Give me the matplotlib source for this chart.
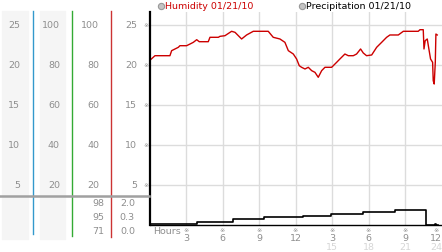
import numpy as np
import matplotlib
matplotlib.use("Agg")
import matplotlib.pyplot as plt
import matplotlib.transforms as mtransforms
from matplotlib.lines import Line2D
from matplotlib.patches import Rectangle

# humidity trace (hours, value)
hum_hours = [0, 0.45, 1.68, 1.82, 2.37, 2.5, 3.05, 3.33, 3.6, 3.88, 4.09, 4.83,
             4.97, 5.66, 5.79, 6.2, 6.75, 7.03, 7.57, 7.98, 8.53, 9.76, 10.17,
             10.72, 11.13, 11.41, 11.82, 12.09, 12.31, 12.5, 12.78, 13.05, 13.33,
             13.6, 13.87, 14.15, 14.42, 14.97, 15.38, 15.65, 16.06, 16.34, 16.75,
             17.02, 17.35, 17.57, 17.84, 18.26, 18.67, 19.08, 19.49, 19.76, 20.45,
             20.86, 22.09, 22.23, 22.5, 22.56, 22.66, 22.83, 22.94, 23.1, 23.27,
             23.32, 23.4, 23.49, 23.54, 23.65]
hum_vals = [20.48, 21.1, 21.1, 21.73, 22.15, 22.35, 22.35, 22.56, 22.77, 23.1,
            22.85, 22.85, 23.4, 23.4, 23.52, 23.6, 24.15, 24.02, 23.19, 23.69,
            24.15, 24.15, 23.4, 23.19, 22.77, 21.73, 21.31, 20.69, 19.85, 19.65,
            19.44, 19.65, 19.23, 19.02, 18.4, 19.23, 19.65, 19.65, 20.27, 20.69,
            21.31, 21.1, 21.1, 21.31, 21.94, 21.44, 21.1, 21.19, 22.15, 22.77,
            23.4, 23.69, 23.69, 24.15, 24.15, 24.35, 24.35, 21.94, 22.98, 23.19,
            22.15, 20.69, 20.27, 17.98, 17.56, 20.27, 23.81, 23.69]

# accumulated precipitation (step)
precip_hours = [0, 1.55, 3.93, 6.89, 9.41, 12.64, 14.89, 17.57, 20.17, 22.75,
                23.46, 23.55, 23.73]
precip_vals = [0.005, 0.02, 0.06, 0.11, 0.15, 0.19, 0.23, 0.27, 0.31, 0.0,
               0.01, 0.0, 0.0]

y_ticks = [25, 20, 15, 10, 5]
pct_ticks = ['100', '80', '60', '40', '20']
low_left = ['98', '95', '71']
low_right = ['2.0', '0.3', '0.0']
hour_ticks = [3, 6, 9, 12, 15, 18, 21, 24]
hour_labels = ['3', '6', '9', '12', '3', '6', '9', '12']
hour_labels2 = ['', '', '', '', '15', '18', '21', '24']

W, H = 442, 253
GRAY = '#8e8e8e'
fig = plt.figure(figsize=(W / 100, H / 100), dpi=100)


def px(x, y):
    return x / W, 1 - y / H


# main plot area
ax = fig.add_axes([149.5 / W, 1 - 225.5 / H, 292 / W, 212.5 / H])
ax.set_xlim(0, 24)
ax.set_ylim(0, 212.5 / 8)
for h in hour_ticks[:-1]:
    ax.axvline(h, color='#dcdcdc', lw=1, zorder=0)
for v in y_ticks:
    ax.axhline(v, color='#dcdcdc', lw=1, zorder=0)
ax.plot(hum_hours, hum_vals, color='#cc0000', lw=1)
ax.set_xticks([])
ax.set_yticks([])
ax.spines['top'].set_visible(False)
ax.spines['right'].set_visible(False)
ax.spines['left'].set_linewidth(1.6)
ax.spines['bottom'].set_linewidth(1)

ax2 = ax.twinx()
ax2.set_ylim(0, 212.5 / 46.7)
ax2.step(precip_hours, precip_vals, where='post', color='black', lw=1.2)
ax2.set_yticks([])
for s in ax2.spines.values():
    s.set_visible(False)

# legend
for x0, label, col in [(161, 'Humidity 01/21/10', '#cc0000'),
                       (302, 'Precipitation 01/21/10', 'black')]:
    fig.add_artist(Line2D([x0 / W], [1 - 6.5 / H], marker='o', ms=4.5,
                          mfc='#c4c4c4', mec='#999999', mew=0.8,
                          transform=fig.transFigure))
    fig.text(*px(x0 + 4, 6.5), label, color=col, fontsize=6.8,
             ha='left', va='center')

# left columns
fig.add_artist(Rectangle(px(2, 240), 26 / W, 228 / H, color='#f5f5f5',
                         transform=fig.transFigure, zorder=0))
fig.add_artist(Rectangle(px(40, 240), 25 / W, 228 / H, color='#f5f5f5',
                         transform=fig.transFigure, zorder=0))
for x0, y1, col in [(33, 235, '#3399cc'), (72, 237, '#33aa33'),
                    (111, 238, '#cc3333')]:
    fig.add_artist(Line2D([x0 / W, x0 / W], [1 - 12 / H, 1 - y1 / H],
                          color=col, lw=1, transform=fig.transFigure))
fig.add_artist(Line2D([0, 149 / W], [1 - 197 / H, 1 - 197 / H],
                      color='#a0a0a0', lw=1.8, transform=fig.transFigure))

ytr = mtransforms.blended_transform_factory(fig.transFigure, ax.transData)
for v, p in zip(y_ticks, pct_ticks):
    fig.text(20 / W, v, str(v), transform=ytr, color=GRAY, fontsize=6.8,
             ha='right', va='center')
    fig.text(60 / W, v, p, transform=ytr, color=GRAY, fontsize=6.8,
             ha='right', va='center')
    fig.text(99 / W, v, p, transform=ytr, color=GRAY, fontsize=6.8,
             ha='right', va='center')
    fig.text(137 / W, v, str(v), transform=ytr, color=GRAY, fontsize=6.8,
             ha='right', va='center')
    fig.text(146 / W, v, '\u203b', transform=ytr, color=GRAY, fontsize=4.5,
             ha='center', va='center')

for i, (a, b) in enumerate(zip(low_left, low_right)):
    yy = 204 + i * 14
    fig.text(*px(104, yy), a, color=GRAY, fontsize=6.8, ha='right', va='center')
    fig.text(*px(135, yy), b, color=GRAY, fontsize=6.8, ha='right', va='center')

# hour axis labels
xtr = mtransforms.blended_transform_factory(ax.transData, fig.transFigure)
fig.text(*px(153, 232), 'Hours', color=GRAY, fontsize=6.8, ha='left', va='center')
for h, l1, l2 in zip(hour_ticks, hour_labels, hour_labels2):
    xx = 23.55 if h == 24 else h
    fig.text(xx, 1 - 231 / H, '\u203b', transform=xtr, color=GRAY, fontsize=4.5,
             ha='center', va='center')
    fig.text(xx, 1 - 238.5 / H, l1, transform=xtr, color=GRAY, fontsize=6.8,
             ha='center', va='center')
    if l2:
        fig.text(xx, 1 - 247.5 / H, l2, transform=xtr, color='#d6d6d6',
                 fontsize=6.8, ha='center', va='center')

fig.savefig('out.png', dpi=100)
